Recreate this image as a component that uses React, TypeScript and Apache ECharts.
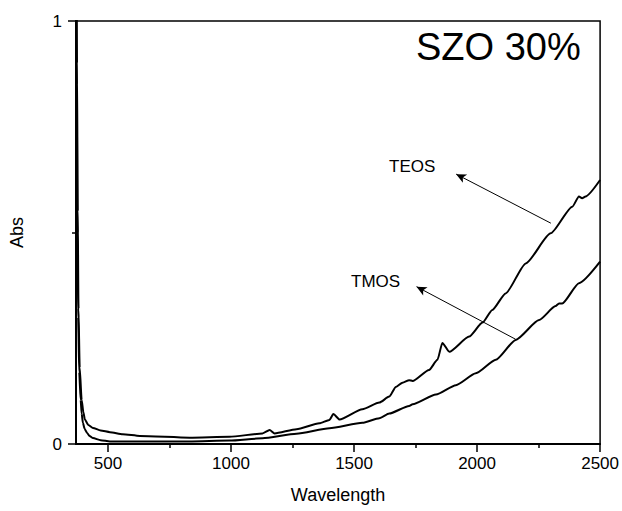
import React, { useEffect, useRef } from "react";
import * as echarts from "echarts";

const teosWl = [371, 374, 377, 380, 385, 393, 400, 406, 420, 439, 470, 508, 560, 630, 832, 994, 1128, 1157, 1177, 1266, 1359, 1400, 1416, 1441, 1534, 1603, 1643, 1670, 1697, 1724, 1738, 1805, 1839, 1859, 1887, 1968, 2022, 2062, 2116, 2198, 2299, 2387, 2414, 2427, 2441, 2500];
const teosAbs = [1.2, 0.9, 0.55, 0.32, 0.18, 0.104, 0.075, 0.058, 0.045, 0.038, 0.032, 0.028, 0.023, 0.019, 0.015, 0.017, 0.025, 0.033, 0.025, 0.035, 0.049, 0.057, 0.071, 0.058, 0.082, 0.098, 0.112, 0.135, 0.145, 0.151, 0.149, 0.175, 0.199, 0.239, 0.218, 0.254, 0.287, 0.317, 0.356, 0.427, 0.498, 0.561, 0.585, 0.581, 0.585, 0.624];

const tmosWl = [371, 373, 376, 379, 383, 389, 393, 398, 405, 415, 425, 439, 470, 508, 630, 830, 994, 1128, 1266, 1400, 1534, 1603, 1643, 1724, 1738, 1833, 1914, 1995, 2076, 2157, 2252, 2319, 2333, 2346, 2414, 2500];
const tmosAbs = [1.2, 0.85, 0.5, 0.3, 0.17, 0.104, 0.072, 0.05, 0.036, 0.026, 0.019, 0.014, 0.009, 0.006, 0.006, 0.006, 0.008, 0.0135, 0.024, 0.037, 0.05, 0.061, 0.072, 0.09, 0.094, 0.117, 0.139, 0.167, 0.199, 0.246, 0.293, 0.326, 0.332, 0.332, 0.38, 0.431];

const xMajorTicks = [500, 1000, 1500, 2000, 2500];
const xMinorTicks = [750, 1250, 1750, 2250];

const teosArrow = [[2300, 0.522], [1915, 0.638]];
const tmosArrow = [[2157, 0.2475], [1754, 0.372]];

const FONT = "Liberation Sans, Arial, sans-serif";

export default function App() {
  const ref = useRef<HTMLDivElement>(null);
  useEffect(() => {
    if (!ref.current) return;
    const chart = echarts.init(ref.current, null, { renderer: "svg" });
    const teos = teosWl.map((w, i) => [w, teosAbs[i]]);
    const tmos = tmosWl.map((w, i) => [w, tmosAbs[i]]);
    const arrowStyle = {
      silent: true,
      symbol: ["none", "arrow"],
      symbolSize: [7, 10],
      label: { show: false },
      lineStyle: { color: "#000", width: 1, type: "solid" as const },
      emphasis: { disabled: true },
    };
    chart.setOption({
      animation: false,
      backgroundColor: "#fff",
      textStyle: { fontFamily: FONT },
      grid: {
        left: 76,
        right: 21,
        top: 21,
        bottom: 67,
        show: true,
        borderColor: "#000",
        borderWidth: 1.5,
      },
      xAxis: [
        {
          type: "value",
          min: 370,
          max: 2500,
          name: "Wavelength",
          nameLocation: "middle",
          nameGap: 42,
          nameTextStyle: { fontSize: 18, color: "#000", fontFamily: FONT },
          axisLine: { show: true, lineStyle: { color: "#000", width: 2 } },
          axisTick: { show: true, inside: false, length: 8, customValues: xMajorTicks, lineStyle: { color: "#000", width: 1.5 } },
          axisLabel: { show: true, customValues: xMajorTicks, fontSize: 17, color: "#000", margin: 11, fontFamily: FONT, formatter: (v: number) => String(v) },
          splitLine: { show: false },
        },
        {
          type: "value",
          min: 370,
          max: 2500,
          position: "bottom",
          axisLine: { show: false },
          axisTick: { show: true, inside: false, length: 4, customValues: xMinorTicks, lineStyle: { color: "#000", width: 1.5 } },
          axisLabel: { show: false },
          splitLine: { show: false },
        },
      ],
      yAxis: {
        type: "value",
        min: 0,
        max: 1,
        interval: 1,
        name: "Abs",
        nameLocation: "middle",
        nameGap: 50,
        nameTextStyle: { fontSize: 18, color: "#000", fontFamily: FONT },
        axisLine: { show: true, lineStyle: { color: "#000", width: 2 } },
        axisTick: { show: true, inside: false, length: 8, lineStyle: { color: "#000", width: 1.5 } },
        minorTick: { show: true, splitNumber: 2, length: 4, lineStyle: { color: "#000", width: 1.5 } },
        axisLabel: { fontSize: 17, color: "#000", margin: 14, fontFamily: FONT },
        splitLine: { show: false },
      },
      series: [
        {
          name: "TEOS",
          type: "line",
          data: teos,
          showSymbol: false,
          smooth: 0.2,
          smoothMonotone: "x",
          clip: true,
          lineStyle: { color: "#000", width: 2 },
          markLine: { ...arrowStyle, data: [[{ coord: teosArrow[0] }, { coord: teosArrow[1] }]] },
        },
        {
          name: "TMOS",
          type: "line",
          data: tmos,
          showSymbol: false,
          smooth: 0.2,
          smoothMonotone: "x",
          clip: true,
          lineStyle: { color: "#000", width: 2 },
          markLine: { ...arrowStyle, data: [[{ coord: tmosArrow[0] }, { coord: tmosArrow[1] }]] },
        },
      ],
      graphic: [
        { type: "text", left: 416, top: 28, style: { text: "SZO 30%", fontSize: 38, fill: "#000", fontFamily: FONT } },
        { type: "text", left: 389, top: 158, style: { text: "TEOS", fontSize: 17, fill: "#000", fontFamily: FONT } },
        { type: "text", left: 351, top: 273, style: { text: "TMOS", fontSize: 17, fill: "#000", fontFamily: FONT } },
      ],
    });
    return () => chart.dispose();
  }, []);
  return <div ref={ref} style={{ position: "absolute", left: 0, top: 0, width: 622, height: 511 }} />;
}
